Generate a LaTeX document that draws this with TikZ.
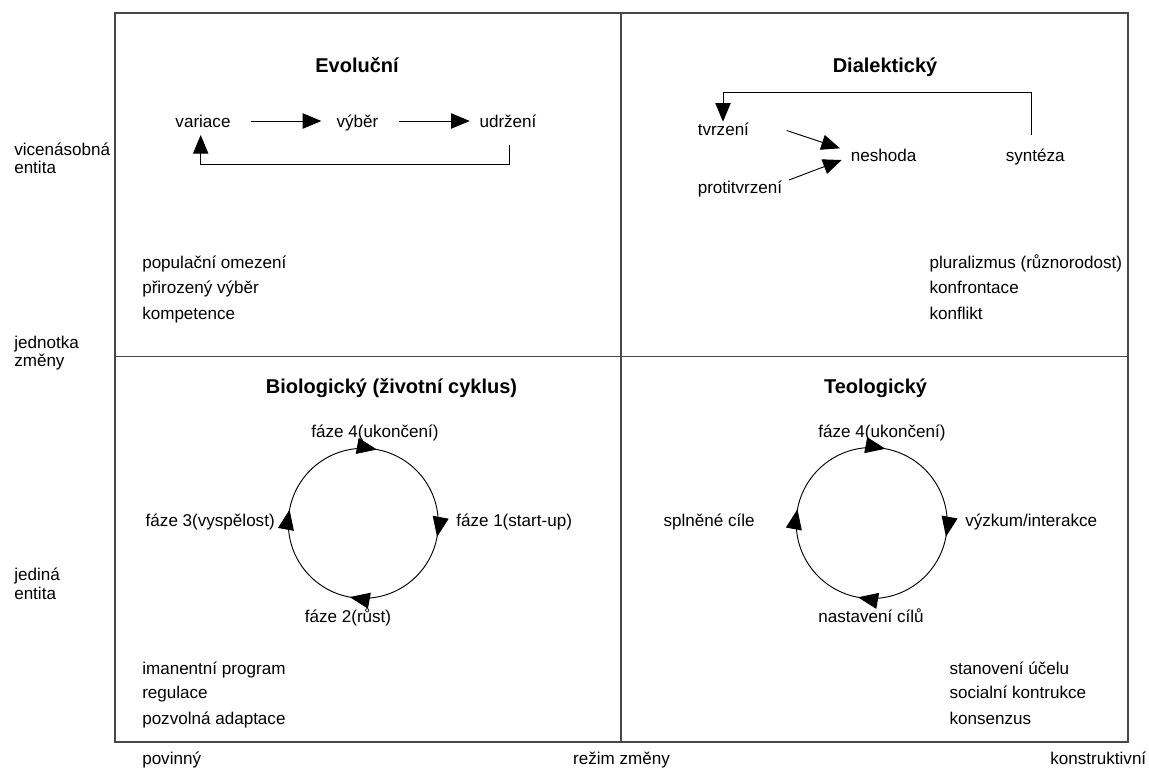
\documentclass[tikz,border=0pt]{standalone}
\usepackage{fontspec}
\setmainfont{Liberation Sans}
\usetikzlibrary{arrows.meta,calc,decorations.markings}

\begin{document}
\begin{tikzpicture}[x=0.75pt,y=-0.75pt,
  txt/.style={inner sep=0pt, font=\fontsize{12.8}{15}\selectfont},
  ttl/.style={inner sep=0pt, font=\fontsize{15}{18}\selectfont\bfseries},
  frame/.style={draw=black!72, line width=1.05pt},
  flow/.style={line width=0.7pt, -{Triangle[length=14pt,width=11.5pt]}},
  cycle/.style={line width=0.7pt, postaction=decorate,
    decoration={markings,
      mark=at position 0.029 with {\arrow{Triangle[length=15pt,width=12pt]}},
      mark=at position 0.279 with {\arrow{Triangle[length=15pt,width=12pt]}},
      mark=at position 0.529 with {\arrow{Triangle[length=15pt,width=12pt]}},
      mark=at position 0.779 with {\arrow{Triangle[length=15pt,width=12pt]}}}}
]
\useasboundingbox (0,0) rectangle (1149,769);

% quadrant frame
\draw[frame] (115,13) rectangle (1128,742);
\draw[frame] (621,13) -- (621,742);
\draw[frame] (115,356.7) -- (1128,356.7);

% quadrant titles
\node[ttl, anchor=base] (evo) at (357,72) {Evoluční};
\node[ttl, anchor=base] (dia) at (885,72) {Dialektický};
\node[ttl, anchor=base] (bio) at (391.5,393) {Biologický (životní cyklus)};
\node[ttl, anchor=base] (teo) at (875.5,393) {Teologický};

% vertical axis
\node[txt, anchor=base west] (ax1a) at (14,155) {vicenásobná};
\node[txt, anchor=base west] (ax1b) at (14,173) {entita};
\node[txt, anchor=base west] (ax2a) at (14,348) {jednotka};
\node[txt, anchor=base west] (ax2b) at (14,366.5) {změny};
\node[txt, anchor=base west] (ax3a) at (14,580) {jediná};
\node[txt, anchor=base west] (ax3b) at (14,599) {entita};

% horizontal axis
\node[txt, anchor=base west] (hx1) at (142,764) {povinný};
\node[txt, anchor=base] (hx2) at (621.5,764) {režim změny};
\node[txt, anchor=base east] (hx3) at (1146.5,764) {konstruktivní};

% evolutionary cycle
\node[txt, anchor=base] (var) at (203,127) {variace};
\node[txt, anchor=base] (vyb) at (357.5,127) {výběr};
\node[txt, anchor=base] (udr) at (508,127) {udržení};
\draw[flow] ($(var.base east)+(20.2,-6)$) -- ($(vyb.base west)+(-15,-6)$);
\draw[flow] ($(vyb.base east)+(20.6,-6)$) -- ($(udr.base west)+(-9.5,-6)$);
\draw[flow] ($(udr.base)+(1,18)$) -- ++(0,19) -| ($(var.base)+(-2.3,8)$);

\node[txt, anchor=base west] (e1) at (142,268.3) {populační omezení};
\node[txt, anchor=base west] (e2) at (142,293.3) {přirozený výběr};
\node[txt, anchor=base west] (e3) at (142,319) {kompetence};

% dialectical cycle
\node[txt, anchor=base west] (tvr) at (697.5,135.5) {tvrzení};
\node[txt, anchor=base west] (nes) at (850.5,161) {neshoda};
\node[txt, anchor=base west] (syn) at (1005.5,161) {syntéza};
\node[txt, anchor=base west] (pro) at (697.5,193) {protitvrzení};
\draw[flow] ($(tvr.base east)+(37.5,-5)$) -- ($(nes.base west)+(-10.5,-12.7)$);
\draw[flow] ($(pro.base east)+(6.5,-13)$) -- ($(nes.base west)+(-8.8,-1)$);
\draw[flow] ($(syn.base west)+(26.2,-26)$) -- ++(0,-42.3) -| ($(tvr.base west)+(25.5,-13.8)$);

\node[txt, anchor=base west] (d1) at (929.3,268.3) {pluralizmus (různorodost)};
\node[txt, anchor=base west] (d2) at (929.3,293.3) {konfrontace};
\node[txt, anchor=base west] (d3) at (929.3,319) {konflikt};

% life cycle
\draw[cycle] (363.3,523.3) ++(0,-75) arc[start angle=-90, end angle=270, radius=75];
\node[txt, anchor=base] (b4) at (375,437) {fáze 4(ukončení)};
\node[txt, anchor=base west] (b1) at (456,526) {fáze 1(start-up)};
\node[txt, anchor=base] (b2) at (348,622) {fáze 2(růst)};
\node[txt, anchor=base east] (b3) at (275,526) {fáze 3(vyspělost)};

\node[txt, anchor=base west] (c1) at (142,674) {imanentní program};
\node[txt, anchor=base west] (c2) at (142,698.3) {regulace};
\node[txt, anchor=base west] (c3) at (142,724) {pozvolná adaptace};

% teleological cycle
\draw[cycle] (871.7,523) ++(0,-75.5) arc[start angle=-90, end angle=270, radius=75.5];
\node[txt, anchor=base] (t4) at (882,437) {fáze 4(ukončení)};
\node[txt, anchor=base west] (t1) at (965,526) {výzkum/interakce};
\node[txt, anchor=base] (t2) at (871,622) {nastavení cílů};
\node[txt, anchor=base east] (t3) at (755,526) {splněné cíle};

\node[txt, anchor=base west] (f1) at (949.3,674) {stanovení účelu};
\node[txt, anchor=base west] (f2) at (949.3,698.3) {socialní kontrukce};
\node[txt, anchor=base west] (f3) at (949.3,724) {konsenzus};
\end{tikzpicture}
\end{document}
